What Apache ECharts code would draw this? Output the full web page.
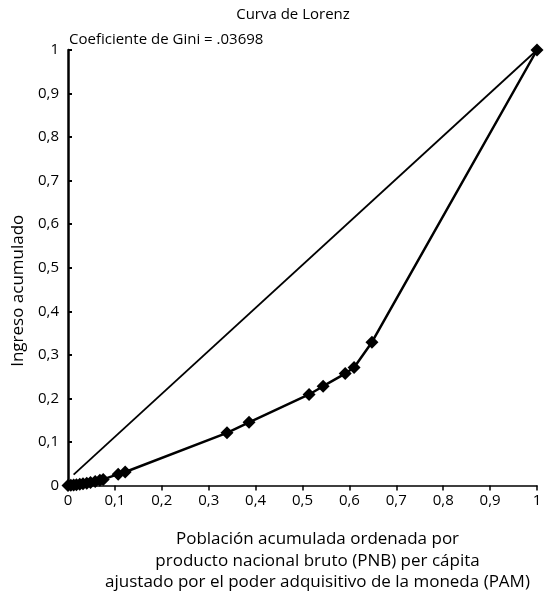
<!DOCTYPE html>
<html>
<head>
<meta charset="utf-8">
<script src="https://cdn.jsdelivr.net/npm/echarts@6/dist/echarts.min.js"></script>
<style>
  html, body { margin: 0; padding: 0; background: #fff; }
  #chart { width: 550px; height: 598px; }
</style>
</head>
<body>
<div id="chart"></div>
<script>
// Lorenz curve data (cumulative population share, cumulative income share)
const popCum = [0, 0.006, 0.012, 0.018, 0.025, 0.032, 0.040, 0.048, 0.058, 0.068, 0.075, 0.107, 0.122, 0.339, 0.386, 0.514, 0.544, 0.591, 0.610, 0.648, 1];
const incCum = [0, 0.0005, 0.001, 0.002, 0.003, 0.004, 0.005, 0.007, 0.009, 0.012, 0.014, 0.026, 0.031, 0.121, 0.145, 0.209, 0.228, 0.257, 0.271, 0.329, 1];
// Equality reference line
const equalityX = [0.012, 1];
const equalityY = [0.025, 1];
const xTicks = [0, 0.1, 0.2, 0.3, 0.4, 0.5, 0.6, 0.7, 0.8, 0.9, 1];
const titleText = 'Curva de Lorenz';
const giniText = 'Coeficiente de Gini = .03698';
const xName = 'Población acumulada ordenada por\nproducto nacional bruto (PNB) per cápita\najustado por el poder adquisitivo de la moneda (PAM)';
const yName = 'Ingreso acumulado';

const FONT = 'Open Sans';
const fmt = v => (+v.toFixed(1)).toString().replace('.', ',');

const chart = echarts.init(document.getElementById('chart'));
chart.setOption({
  animation: false,
  backgroundColor: '#fff',
  textStyle: { fontFamily: FONT, color: '#000' },
  title: [
    { text: titleText, left: 288, top: 2, textAlign: 'center',
      textStyle: { fontFamily: FONT, fontSize: 15, fontWeight: 'normal', color: '#000' } },
    { text: giniText, left: 64, top: 27,
      textStyle: { fontFamily: FONT, fontSize: 15, fontWeight: 'normal', color: '#000' } }
  ],
  grid: { left: 68, right: 13, top: 50, bottom: 104, containLabel: false },
  xAxis: {
    type: 'value', min: 0, max: 1, interval: 0.1,
    name: xName, nameLocation: 'middle', nameGap: 43,
    nameTextStyle: { fontFamily: FONT, fontSize: 17, color: '#000', lineHeight: 21.5, padding: [0, 0, 0, 30] },
    axisLine: { show: true, lineStyle: { color: '#000', width: 1.5 } },
    axisTick: { show: true, inside: false, length: 5, lineStyle: { color: '#000', width: 1.5 } },
    axisLabel: { fontFamily: FONT, fontSize: 15, color: '#000', margin: 8, formatter: fmt },
    splitLine: { show: false }
  },
  yAxis: {
    type: 'value', min: 0, max: 1, interval: 0.1,
    name: yName, nameLocation: 'middle', nameGap: 40,
    nameTextStyle: { fontFamily: FONT, fontSize: 17, color: '#000', padding: [0, 46, 0, 0] },
    axisLine: { show: true, lineStyle: { color: '#000', width: 2.5 } },
    axisTick: { show: true, inside: true, length: 4, lineStyle: { color: '#000', width: 2 } },
    axisLabel: { fontFamily: FONT, fontSize: 15, color: '#000', margin: 9, formatter: fmt },
    splitLine: { show: false }
  },
  series: [
    {
      type: 'line',
      data: equalityX.map((x, i) => [x, equalityY[i]]),
      showSymbol: false, symbol: 'none',
      lineStyle: { color: '#000', width: 1.8 },
      silent: true, clip: false, z: 1
    },
    {
      type: 'line',
      data: popCum.map((x, i) => [x, incCum[i]]),
      symbol: 'diamond', symbolSize: 13, showAllSymbol: true,
      itemStyle: { color: '#000' },
      lineStyle: { color: '#000', width: 2.5 },
      clip: false, z: 2
    }
  ]
});
</script>
</body>
</html>
